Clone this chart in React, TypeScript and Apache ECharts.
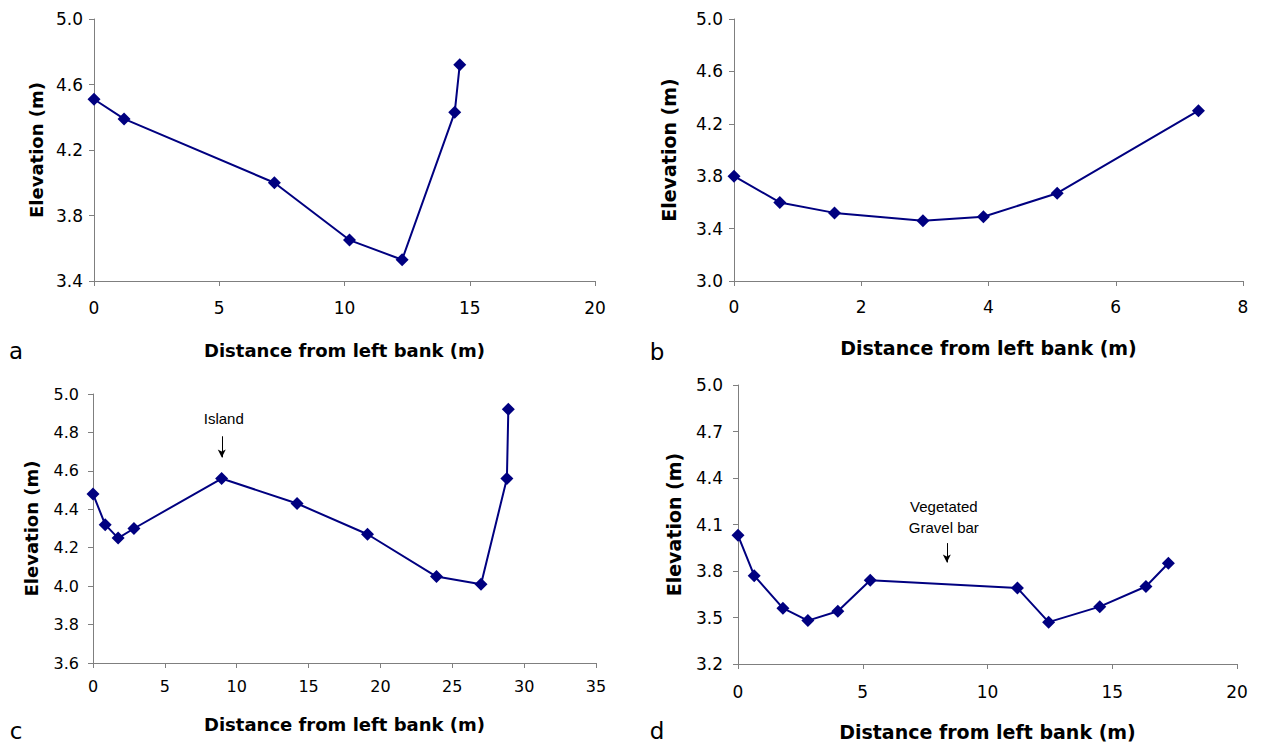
import React, { useEffect, useRef } from "react";
import * as echarts from "echarts";

// ---------- data ----------
const aX = [0, 1.2, 7.2, 10.2, 12.3, 14.4, 14.6];
const aY = [4.51, 4.39, 4.0, 3.65, 3.53, 4.43, 4.72];

const bX = [0, 0.72, 1.58, 2.97, 3.92, 5.08, 7.3];
const bY = [3.8, 3.6, 3.52, 3.46, 3.49, 3.67, 4.3];

const cX = [0, 0.85, 1.75, 2.85, 8.95, 14.2, 19.1, 23.9, 27.0, 28.8, 28.9];
const cY = [4.48, 4.32, 4.25, 4.3, 4.56, 4.43, 4.27, 4.05, 4.01, 4.56, 4.92];

const dX = [0, 0.65, 1.8, 2.8, 4.0, 5.3, 11.2, 12.45, 14.5, 16.35, 17.25];
const dY = [4.03, 3.77, 3.56, 3.48, 3.54, 3.74, 3.69, 3.47, 3.57, 3.7, 3.85];

const aYTicks = [3.4, 3.8, 4.2, 4.6, 5.0];
const bYTicks = [3.0, 3.4, 3.8, 4.2, 4.6, 5.0];
const cYTicks = [3.6, 3.8, 4.0, 4.2, 4.4, 4.6, 4.8, 5.0];
const dYTicks = [3.2, 3.5, 3.8, 4.1, 4.4, 4.7, 5.0];

const xMax = [20, 8, 35, 20];
const xStep = [5, 2, 5, 5];

const panelLetters = ["a", "b", "c", "d"];
const xTitle = "Distance from left bank (m)";
const yTitle = "Elevation (m)";

// annotations (data coordinates)
const islandText = "Island";
const islandTextAt = [9.1, 4.87];
const islandArrow = [
  [8.96, 4.78],
  [8.96, 4.67],
];
const gravelText = "Vegetated\nGravel bar";
const gravelTextAt = [8.25, 4.147];
const gravelArrow = [
  [8.37, 3.98],
  [8.37, 3.855],
];

// ---------- layout / style ----------
const grids = [
  { left: 94, top: 19, width: 501, height: 262 },
  { left: 734, top: 19, width: 509, height: 262 },
  { left: 93, top: 394, width: 503, height: 269 },
  { left: 738, top: 385, width: 499, height: 279 },
];
const tickFont = [17, 17, 16, 17];
const titleFont = [18, 19, 18, 19];
const xLabelMargin = [18, 17, 15, 19];
const yLabelMargin = [11, 11, 14, 15];
const xNameGap = [60, 57, 52, 58];
const yNameGap = [49, 56, 53, 55];
const letterPos = [
  [16, 351],
  [657, 352],
  [16, 731],
  [657, 731],
];

const FONT = "DejaVu Sans";
const AXIS = "#7f7f7f";
const NAVY = "#000080";

function buildOption() {
  const xs = [aX, bX, cX, dX];
  const ys = [aY, bY, cY, dY];
  const yTicks = [aYTicks, bYTicks, cYTicks, dYTicks];

  const xAxis = grids.map((_, i) => ({
    type: "value",
    gridIndex: i,
    min: 0,
    max: xMax[i],
    interval: xStep[i],
    axisLine: { show: true, onZero: false, lineStyle: { color: AXIS, width: 1 } },
    axisTick: { show: true, length: 5, lineStyle: { color: AXIS } },
    axisLabel: {
      color: "#000",
      fontSize: tickFont[i],
      fontFamily: FONT,
      margin: xLabelMargin[i],
    },
    splitLine: { show: false },
    name: xTitle,
    nameLocation: "middle",
    nameGap: xNameGap[i],
    nameTextStyle: {
      color: "#000",
      fontWeight: "bold",
      fontSize: titleFont[i],
      fontFamily: FONT,
    },
  }));

  const yAxis = grids.map((_, i) => ({
    type: "value",
    gridIndex: i,
    min: yTicks[i][0],
    max: yTicks[i][yTicks[i].length - 1],
    axisLine: { show: true, onZero: false, lineStyle: { color: AXIS, width: 1 } },
    axisTick: {
      show: true,
      length: 5,
      customValues: yTicks[i],
      lineStyle: { color: AXIS },
    },
    axisLabel: {
      customValues: yTicks[i],
      formatter: (v: number) => v.toFixed(1),
      color: "#000",
      fontSize: tickFont[i],
      fontFamily: FONT,
      margin: yLabelMargin[i],
    },
    splitLine: { show: false },
    name: yTitle,
    nameLocation: "middle",
    nameGap: yNameGap[i],
    nameTextStyle: {
      color: "#000",
      fontWeight: "bold",
      fontSize: titleFont[i],
      fontFamily: FONT,
    },
  }));

  const noteLabel = {
    show: true,
    position: "inside",
    color: "#000",
    fontSize: 15,
    lineHeight: 21,
    fontFamily: "Liberation Sans",
  };

  const series: any[] = grids.map((_, i) => {
    const s: any = {
      type: "line",
      xAxisIndex: i,
      yAxisIndex: i,
      data: xs[i].map((x, k) => [x, ys[i][k]]),
      symbol: "diamond",
      symbolSize: 13,
      clip: false,
      lineStyle: { color: NAVY, width: 2 },
      itemStyle: { color: NAVY },
    };
    if (i === 2 || i === 3) {
      const txt = i === 2 ? islandText : gravelText;
      const at = i === 2 ? islandTextAt : gravelTextAt;
      const arr = i === 2 ? islandArrow : gravelArrow;
      s.markPoint = {
        silent: true,
        symbol: "circle",
        symbolSize: 1,
        itemStyle: { color: "rgba(0,0,0,0)" },
        label: { ...noteLabel, formatter: () => txt },
        data: [{ coord: at }],
      };
      s.markLine = {
        silent: true,
        symbol: ["none", "arrow"],
        symbolSize: [6, 8],
        label: { show: false },
        lineStyle: { color: "#000", width: 1, type: "solid" },
        data: [[{ coord: arr[0] }, { coord: arr[1] }]],
      };
    }
    return s;
  });

  const graphic = panelLetters.map((t, i) => ({
    type: "text",
    x: letterPos[i][0],
    y: letterPos[i][1],
    style: {
      text: t,
      fill: "#000",
      font: `23px '${FONT}'`,
      textAlign: "center",
      textVerticalAlign: "middle",
    },
  }));

  return {
    animation: false,
    backgroundColor: "#fff",
    grid: grids,
    xAxis,
    yAxis,
    series,
    graphic,
  };
}

export default function App() {
  const ref = useRef<HTMLDivElement>(null);
  useEffect(() => {
    const chart = echarts.init(ref.current!, null, { renderer: "svg" });
    chart.setOption(buildOption() as any);
    return () => chart.dispose();
  }, []);
  return (
    <div
      ref={ref}
      style={{
        position: "absolute",
        left: 0,
        top: 0,
        width: 1264,
        height: 746,
        background: "#fff",
      }}
    />
  );
}
